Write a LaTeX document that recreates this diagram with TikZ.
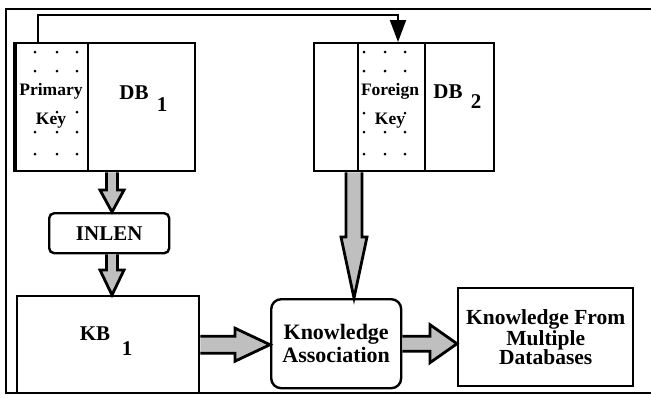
\documentclass[tikz,border=0pt]{standalone}
\usepackage{fontspec}
\setmainfont{Liberation Serif}
\usetikzlibrary{arrows.meta,calc}
\newcommand\myfatv[5]{%
 \draw[fatarrow] let \p1=(#1), \p2=(#2) in
 (\x1-#3pt,\y1) -- (\x1-#3pt,\y2+#5pt) -- (\x1-#4pt,\y2+#5pt) -- (\x1,\y2)
 -- (\x1+#4pt,\y2+#5pt) -- (\x1+#3pt,\y2+#5pt) -- (\x1+#3pt,\y1);}
\newcommand\myfath[5]{%
 \draw[fatarrow] let \p1=(#1), \p2=(#2) in
 (\x1,\y1+#3pt) -- (\x2-#5pt,\y1+#3pt) -- (\x2-#5pt,\y1+#4pt) -- (\x2,\y1)
 -- (\x2-#5pt,\y1-#4pt) -- (\x2-#5pt,\y1-#3pt) -- (\x1,\y1-#3pt);}
\begin{document}
\begin{tikzpicture}[x=1pt,y=-1pt,
  box/.style={draw,line width=2.4pt,inner sep=0pt,anchor=north west},
  fatarrow/.style={draw,line width=2.8pt,fill=gray!50,line join=miter},
  big/.style={font=\bfseries\fontsize{21}{21}\selectfont,inner sep=0pt},
  small/.style={font=\bfseries\fontsize{17.5}{17.5}\selectfont,inner sep=0pt},
  pdot/.style={fill,circle,inner sep=0pt,minimum size=3pt},
  link/.style={line width=2pt,-{Triangle[length=22pt,width=16pt]}}
]
\useasboundingbox (0,0) rectangle (651,397);
% outer frame
\draw[line width=2.4pt] (651,9) -- (6,9) -- (6,393) -- (651,393);

% DB1
\node[box,minimum width=179pt,minimum height=128pt] (db1) at (15,42) {};
\node[box,minimum width=72pt,minimum height=128pt] (pk1) at (15,42) {};
\draw[line width=4.5pt] (pk1.north west) -- (pk1.south west);
\foreach \xx in {35,57,77}{\foreach \yy in {52,71,132,154}{\node[pdot] at (\xx,\yy) {};}}
\node[pdot] at (57,112) {};
\node[pdot] at (77,112) {};
\node[small] (pkt) at (51,91) {Primary};
\node[small] (pkk) at (51,121) {Key};
\node[big] (db1t) at (134,93) {DB};
\node[big] (db1s) at (162,105) {1};

% DB2
\node[box,minimum width=180pt,minimum height=128pt] (db2) at (313,42) {};
\node[box,minimum width=67pt,minimum height=128pt] (fk2) at (357,42) {};
\foreach \xx in {364,385,405}{\foreach \yy in {52,71,132,154}{\node[pdot] at (\xx,\yy) {};}}
\node[pdot] at (364,113) {};
\node[pdot] at (405,113) {};
\node[small] (fkt) at (390,91) {Foreign};
\node[small] (fkk) at (390,121) {Key};
\node[big] (db2t) at (448,92) {DB};
\node[big] (db2s) at (476,102) {2};

% link primary key -> foreign key
\draw[link] ($(pk1.north west)+(23,0)$) |- ($(fk2.north west)+(41,-27)$) -- ($(fk2.north west)+(41,0)$);

% INLEN
\node[box,rounded corners=5pt,minimum width=120pt,minimum height=40pt,big] (inlen) at (48,212) {INLEN};

% KB1
\node[box,minimum width=182pt,minimum height=97pt] (kb1) at (16,295) {};
\node[big] (kb1t) at (95,334) {KB};
\node[big] (kb1s) at (127,349) {1};

% Knowledge Association
\node[box,rounded corners=10pt,minimum width=130pt,minimum height=89pt,
      align=center,font=\bfseries\fontsize{22}{23}\selectfont] (ka) at (270,298)
      {Knowledge\\Association};

% Knowledge from multiple databases
\node[box,minimum width=175pt,minimum height=98pt,
      align=center,font=\bfseries\fontsize{21.5}{19.5}\selectfont] (kf) at (457,287)
      {Knowledge From\\Multiple\\Databases};

% fat arrows
\coordinate (a1) at ($(db1.south west)+(97,0)$);
\coordinate (a2) at ($(inlen.south west)+(64,0)$);
\coordinate (a4) at ($(db2.south west)+(41,0)$);
\myfatv{a1}{inlen.north}{5.5}{12}{22}
\myfatv{a2}{kb1.north}{5.5}{12}{25}
\myfath{kb1.east}{ka.west}{8.5}{16.5}{35}
\myfatv{a4}{ka.north}{8}{13}{61}
\myfath{ka.east}{kf.west}{7.5}{19}{27}
\end{tikzpicture}
\end{document}
